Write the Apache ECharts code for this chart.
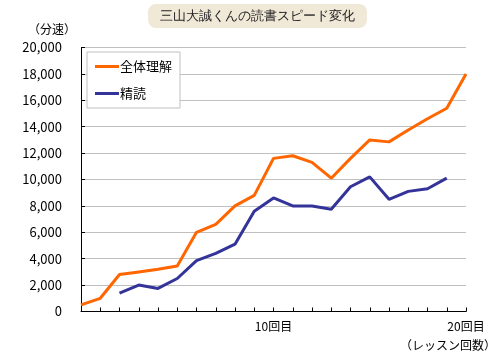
<!DOCTYPE html>
<html><head><meta charset="utf-8">
<script src="https://cdn.jsdelivr.net/npm/echarts@6/dist/echarts.min.js"></script>
<style>html,body{margin:0;padding:0;background:#fff}#c{width:500px;height:354px}</style>
</head><body><div id="c"></div>
<script>
const titleText = '三山大誠くんの読書スピード変化';
const seriesNames = ['全体理解', '精読'];
const lessons = [0,1,2,3,4,5,6,7,8,9,10,11,12,13,14,15,16,17,18,19,20];
const overall = [500,1000,2800,3000,3200,3450,6000,6600,8000,8800,11600,11800,11300,10100,11600,13000,12850,13750,14600,15400,18000];
const intensive = [null,null,1400,2000,1750,2500,3850,4400,5100,7600,8600,8000,8000,7750,9450,10200,8500,9100,9300,10100,null];
const xLabels = {10:'10回目', 20:'20回目'};
const yName = '（分速）';
const xName = '（レッスン回数）';

const font = '"Noto Sans CJK JP", sans-serif';
const chart = echarts.init(document.getElementById('c'));
chart.setOption({
  animation:false,
  textStyle:{fontFamily:font},
  grid:{left:81,right:34,top:47.5,bottom:42.5},
  legend:{
    orient:'vertical', left:87, top:52, width:92,
    backgroundColor:'#fff', borderColor:'#c0c0c0', borderWidth:1,
    padding:[8,8,8,8], itemGap:14, itemWidth:24, itemHeight:3, icon:'rect',
    textStyle:{fontSize:13,color:'#000',fontFamily:font, padding:[0,0,0,-4]},
    data:seriesNames
  },
  xAxis:{
    type:'value', min:0, max:20, interval:1,
    axisLine:{lineStyle:{color:'#000',width:1}},
    axisTick:{inside:true,length:4,lineStyle:{color:'#000'}},
    splitLine:{show:false},
    axisLabel:{margin:9,fontSize:12,color:'#000',fontFamily:font,
      formatter:v=>xLabels[v]||''}
  },
  yAxis:{
    type:'value', min:0, max:20000, interval:2000,
    axisLine:{show:true,lineStyle:{color:'#000',width:1}},
    axisTick:{show:true,inside:true,length:4,lineStyle:{color:'#000'}},
    splitLine:{lineStyle:{color:'#c0c0c0',width:1}},
    axisLabel:{margin:19,fontSize:13,color:'#000',fontFamily:font,
      formatter:v=>v.toLocaleString('en-US')}
  },
  series:[
    {name:seriesNames[0],type:'line',symbol:'none',lineStyle:{color:'#ff6600',width:3},itemStyle:{color:'#ff6600'},
     data:lessons.map((x,i)=>[x,overall[i]])},
    {name:seriesNames[1],type:'line',symbol:'none',lineStyle:{color:'#333399',width:3},itemStyle:{color:'#333399'},
     data:lessons.map((x,i)=>[x,intensive[i]]).filter(d=>d[1]!==null)}
  ],
  graphic:[
    {type:'rect',left:148,top:4,shape:{width:219,height:24,r:8},style:{fill:'#f0e9d8'}},
    {type:'text',x:257.5,y:16,style:{text:titleText,fontSize:13,fill:'#222',font:'13px '+font,align:'center',verticalAlign:'middle'}},
    {type:'text',x:28,y:29,style:{text:yName,font:'12px '+font,fill:'#000',verticalAlign:'middle'}},
    {type:'text',x:496,y:345,style:{text:xName,font:'12px '+font,fill:'#000',align:'right',verticalAlign:'middle'}}
  ]
});
</script></body></html>
